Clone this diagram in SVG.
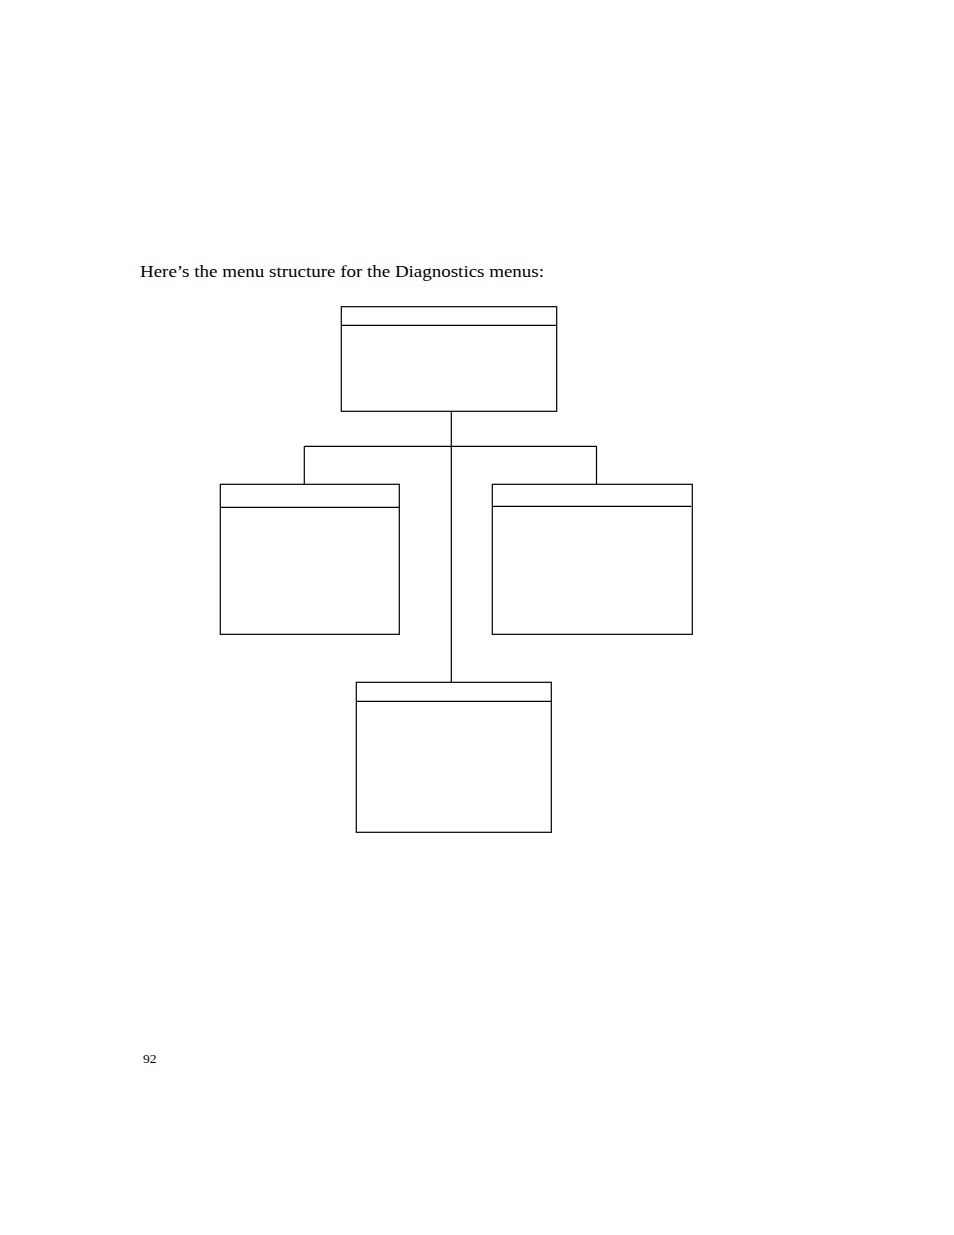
<svg xmlns="http://www.w3.org/2000/svg" width="954" height="1235" viewBox="0 0 954 1235">
<style>
.box{fill:none;stroke:#000;stroke-width:1.2}
.ln{fill:none;stroke:#000;stroke-width:1.2}
.t{font-family:"Liberation Serif","DejaVu Serif",serif;fill:#000}
</style>
<rect width="954" height="1235" fill="#fff"/>
<text class="t" x="140" y="277" font-size="16.5" textLength="404" lengthAdjust="spacingAndGlyphs">Here’s the menu structure for the Diagnostics menus:</text>
<g id="connectors">
<line class="ln" x1="451.3" y1="411.3" x2="451.3" y2="682.3"/>
<line class="ln" x1="304.3" y1="446.3" x2="596.7" y2="446.3"/>
<line class="ln" x1="304.3" y1="446.3" x2="304.3" y2="484.3"/>
<line class="ln" x1="596.5" y1="446.3" x2="596.5" y2="484.3"/>
</g>
<g id="node-top">
<rect class="box" x="341.3" y="306.7" width="215.4" height="104.6"/>
<line class="ln" x1="341.3" y1="325.3" x2="556.7" y2="325.3"/>
</g>
<g id="node-left">
<rect class="box" x="220.3" y="484.3" width="179" height="150"/>
<line class="ln" x1="220.3" y1="507.3" x2="399.3" y2="507.3"/>
</g>
<g id="node-right">
<rect class="box" x="492.3" y="484.3" width="200" height="150"/>
<line class="ln" x1="492.3" y1="506.3" x2="691.3" y2="506.3"/>
</g>
<g id="node-bottom">
<rect class="box" x="356.3" y="682.3" width="195" height="150"/>
<line class="ln" x1="356.3" y1="701.3" x2="551.3" y2="701.3"/>
</g>
<text class="t" x="143" y="1063" font-size="13.5">92</text>
</svg>
